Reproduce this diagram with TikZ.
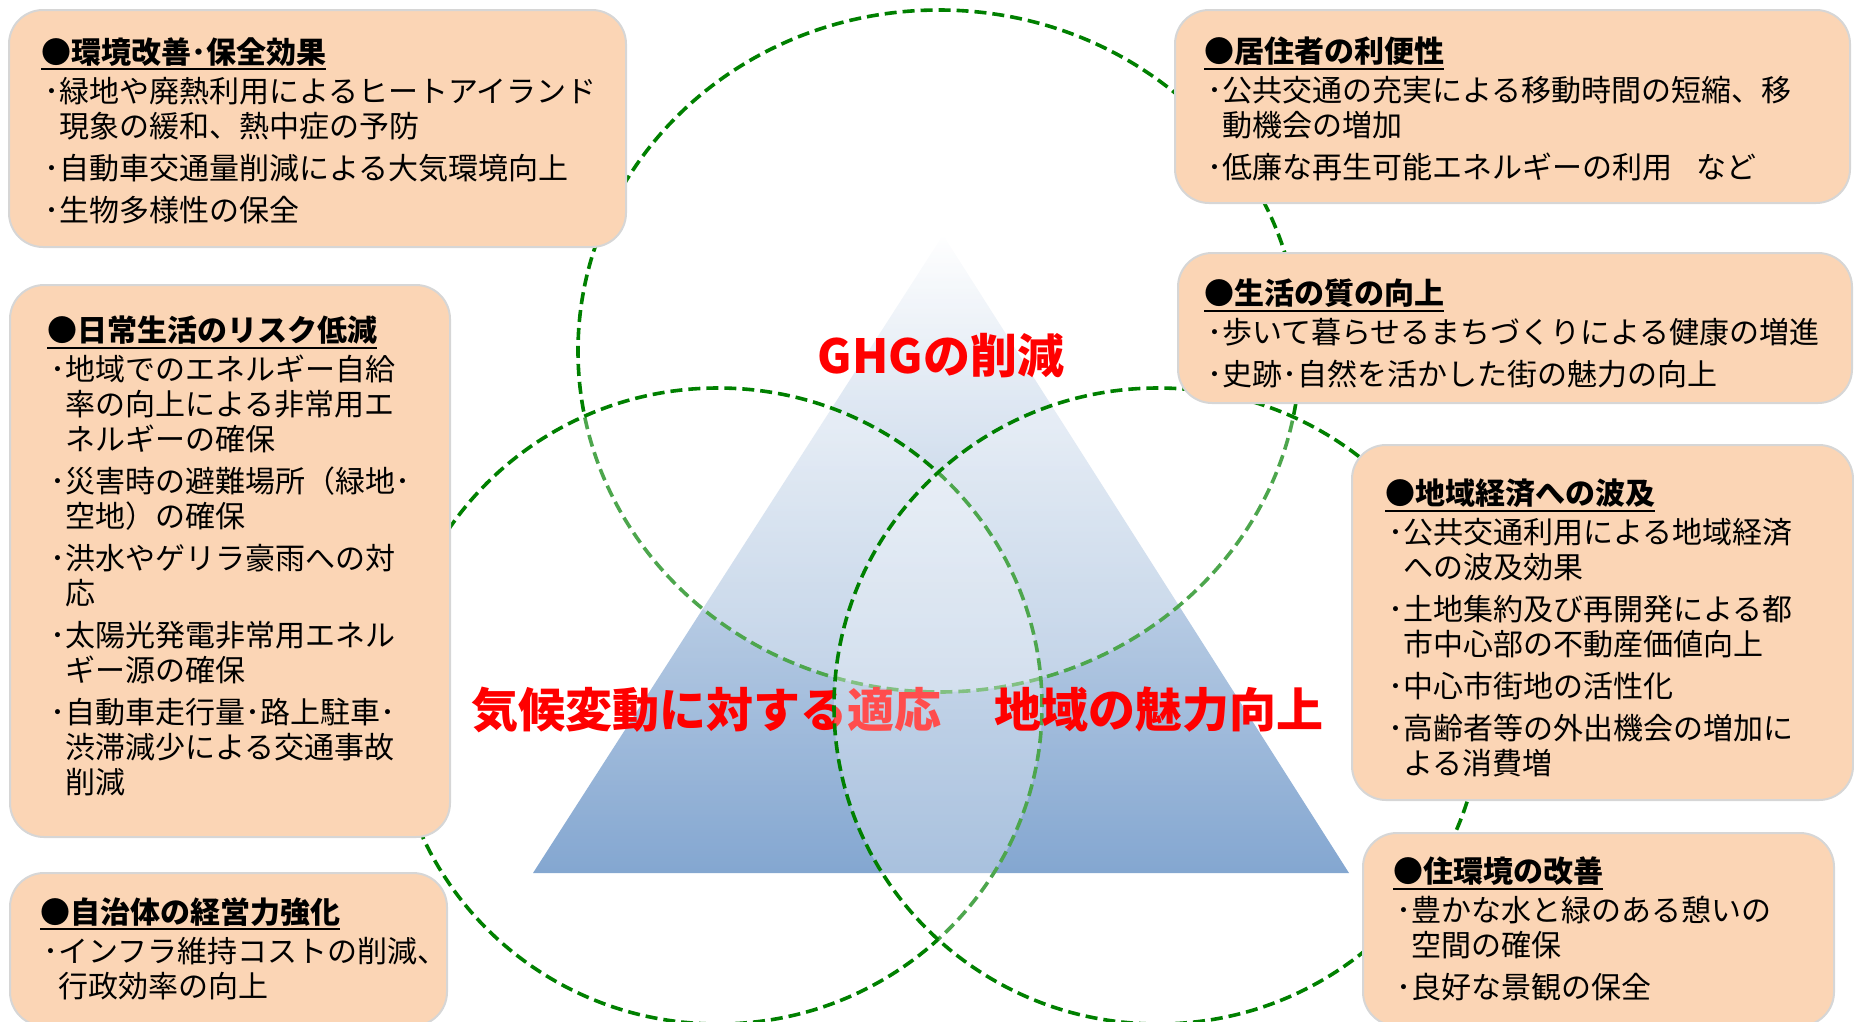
\documentclass[tikz,border=0pt]{standalone}
\usepackage{fontspec}
\setmainfont{Noto Sans CJK JP}

\definecolor{peach}{RGB}{251,213,181}
\definecolor{boxline}{RGB}{214,214,214}
\definecolor{vgreen}{RGB}{0,128,0}
\definecolor{triblue}{RGB}{79,129,189}

% title with a heavy underline, bullet and indent of the item lines
\newcommand{\ttl}[1]{\setbox0\hbox{\bfseries #1}\rlap{\rule[-7pt]{\wd0}{1.6pt}}\box0}
\newcommand{\bul}{\makebox[18pt][r]{･}}
\newcommand{\cnt}{\hspace*{18pt}}

\tikzset{
  box/.style={draw=boxline, line width=2pt, fill=peach, rounded corners=34pt},
  venn/.style={draw=vgreen, line width=3.6pt, dash pattern=on 12pt off 6pt, fill=white, fill opacity=0.3},
  body/.style={anchor=north west, inner sep=0pt, align=left, font=\fontsize{30}{35}\selectfont},
  lbl/.style={text=red, inner sep=0pt, font=\bfseries\fontsize{47}{50}\selectfont}
}

\begin{document}
\begin{tikzpicture}[x=1pt,y=-1pt]
  \useasboundingbox (0,0) rectangle (1854,1021);

  % pyramid
  \shade[top color=white, middle color=triblue!32, bottom color=triblue]
    (943,235) -- (533,873) -- (1349,873) -- cycle;

  % the three circles
  \draw[venn] (939,351) ellipse [x radius=361pt, y radius=341pt];
  \draw[venn] (718,706) ellipse [x radius=324pt, y radius=318pt];
  \node[lbl] (ghg) at (941,356) {GHGの削減};
  \node[lbl] (tekiou) at (706,710) {気候変動に対する適応};
  \draw[venn] (1158,706) ellipse [x radius=324pt, y radius=318pt];
  \node[lbl] (miryoku) at (1159,710) {地域の魅力向上};

  % boxes
  \draw[box] (9,10) rectangle (626,247);
  \node[body] (kankyo) at (41,37) {\ttl{●環境改善･保全効果}\\[4pt]
    \bul 緑地や廃熱利用によるヒートアイランド\\
    \cnt 現象の緩和、熱中症の予防\\[7pt]
    \bul 自動車交通量削減による大気環境向上\\[7pt]
    \bul 生物多様性の保全};

  \draw[box] (1175,10) rectangle (1850,203);
  \node[body] (kyojusha) at (1204,37) {\ttl{●居住者の利便性}\\[4pt]
    \bul 公共交通の充実による移動時間の短縮、移\\
    \cnt 動機会の増加\\[7pt]
    \bul 低廉な再生可能エネルギーの利用\hspace{0.8em}など};

  \draw[box] (1178,253) rectangle (1852,403);
  \node[body] (seikatsu) at (1204,279) {\ttl{●生活の質の向上}\\[4pt]
    \bul 歩いて暮らせるまちづくりによる健康の増進\\[7pt]
    \bul 史跡･自然を活かした街の魅力の向上};

  \draw[box] (10,285) rectangle (450,837);
  \node[body] (risk) at (47,316) {\ttl{●日常生活のリスク低減}\\[4pt]
    \bul 地域でのエネルギー自給\\
    \cnt 率の向上による非常用エ\\
    \cnt ネルギーの確保\\[7pt]
    \bul 災害時の避難場所（緑地･\\
    \cnt 空地）の確保\\[7pt]
    \bul 洪水やゲリラ豪雨への対\\
    \cnt 応\\[7pt]
    \bul 太陽光発電非常用エネル\\
    \cnt ギー源の確保\\[7pt]
    \bul 自動車走行量･路上駐車･\\
    \cnt 渋滞減少による交通事故\\
    \cnt 削減};

  \draw[box] (1352,445) rectangle (1853,800);
  \node[body] (keizai) at (1385,479) {\ttl{●地域経済への波及}\\[4pt]
    \bul 公共交通利用による地域経済\\
    \cnt への波及効果\\[7pt]
    \bul 土地集約及び再開発による都\\
    \cnt 市中心部の不動産価値向上\\[7pt]
    \bul 中心市街地の活性化\\[7pt]
    \bul 高齢者等の外出機会の増加に\\
    \cnt よる消費増};

  \draw[box] (10,873) rectangle (447,1026);
  \node[body] (jichitai) at (40,897) {\ttl{●自治体の経営力強化}\\[4pt]
    \bul インフラ維持コストの削減、\\
    \cnt 行政効率の向上};

  \draw[box] (1363,833) rectangle (1834,1026);
  \node[body] (jukankyo) at (1393,857) {\ttl{●住環境の改善}\\[4pt]
    \bul 豊かな水と緑のある憩いの\\
    \cnt 空間の確保\\[7pt]
    \bul 良好な景観の保全};
\end{tikzpicture}
\end{document}
